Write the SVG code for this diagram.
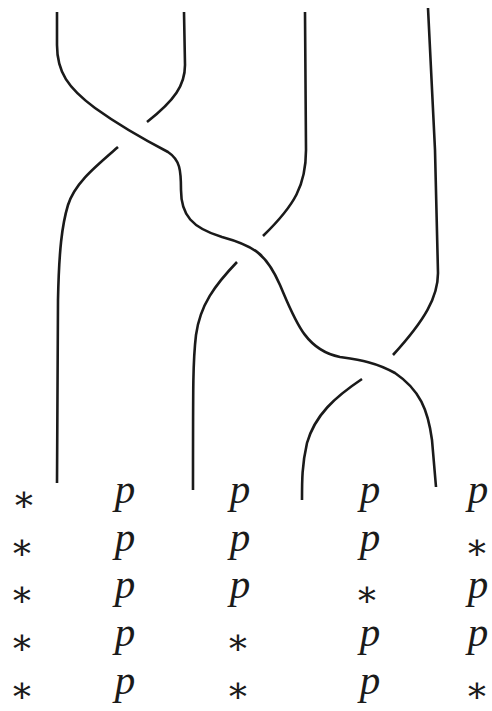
<svg xmlns="http://www.w3.org/2000/svg" width="492" height="711" viewBox="0 0 492 711">
<style>
.s{fill:none;stroke:#1a1a1a;stroke-width:2.6;stroke-linecap:butt;stroke-linejoin:round}
.p{font-family:"Liberation Serif",serif;font-style:italic;font-size:41px;fill:#1a1a1a;text-anchor:middle}
.a{font-family:"DejaVu Serif",serif;font-size:36px;fill:#1a1a1a;text-anchor:middle}
</style>
<rect width="492" height="711" fill="#fff"/>
<g id="connectors">
<path class="s" d="M57,12 V45 C57,72 68,88 95,108 C120,126 145,140 168,152 C180,160 181,170 181,190 C181,215 192,228 222,237 C255,246 267,255 280,285 C295,320 305,350 340,357 C360,360 375,362 395,373 C420,390 428,410 432,440 L436,487"/>
<path class="s" d="M184,12 L185,65 C185,85 175,100 147,122"/>
<path class="s" d="M118,147 C95,167 75,183 68,205 C62,225 59,250 58,300 L57,483"/>
<path class="s" d="M305,12 L306,150 C306,185 295,205 263,236"/>
<path class="s" d="M237,262 C215,285 200,305 196,335 C193,360 193,380 193,490"/>
<path class="s" d="M428,8 L435,150 L438,273 C438,297 425,320 393,355"/>
<path class="s" d="M362,379 C335,397 315,415 307,443 C302,465 302,480 302,500"/>
</g>
<g id="labels">
<text class="a" x="24" y="511">∗</text><text class="p" x="125" y="503">p</text><text class="p" x="240" y="503">p</text><text class="p" x="370" y="503">p</text><text class="p" x="478" y="503">p</text>
<text class="a" x="22" y="559">∗</text><text class="p" x="125" y="551">p</text><text class="p" x="240" y="551">p</text><text class="p" x="370" y="551">p</text><text class="a" x="477" y="559">∗</text>
<text class="a" x="22" y="606">∗</text><text class="p" x="125" y="598">p</text><text class="p" x="240" y="598">p</text><text class="a" x="367" y="606">∗</text><text class="p" x="478" y="598">p</text>
<text class="a" x="22" y="654">∗</text><text class="p" x="125" y="646">p</text><text class="a" x="238" y="654">∗</text><text class="p" x="370" y="646">p</text><text class="p" x="478" y="646">p</text>
<text class="a" x="22" y="702">∗</text><text class="p" x="125" y="694">p</text><text class="a" x="238" y="702">∗</text><text class="p" x="370" y="694">p</text><text class="a" x="477" y="702">∗</text>
</g>
</svg>
